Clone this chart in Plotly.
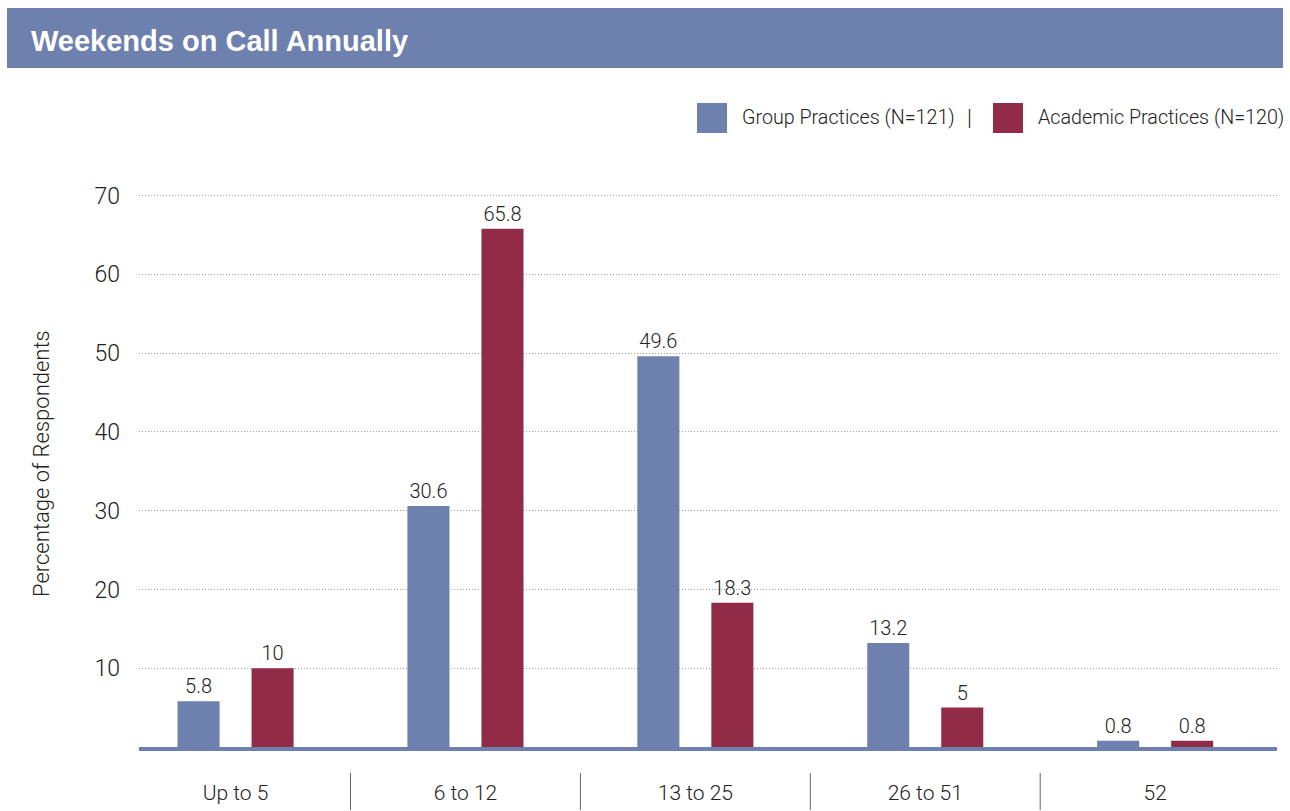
import plotly.graph_objects as go

# ---- data ----
categories = ["Up to 5", "6 to 12", "13 to 25", "26 to 51", "52"]
group_values = [5.8, 30.6, 49.6, 13.2, 0.8]
academic_values = [10, 65.8, 18.3, 5, 0.8]
series_names = ["Group Practices (N=121)", "Academic Practices (N=120)"]
y_ticks = [10, 20, 30, 40, 50, 60, 70]
chart_title = "Weekends on Call Annually"
y_title = "Percentage of Respondents"

# ---- style ----
BLUE = "#6e80ad"
RED = "#922b47"
FONT = "Roboto, Liberation Sans, Arial, sans-serif"
BOLD_FONT = "Liberation Sans, Arial, sans-serif"
TXT = "#222222"
LIGHT = 300

W, H = 1290, 811
ML, MR, MT, MB = 139, 13, 194, 64
PW = W - ML - MR
PH = H - MT - MB


def px_x(x):
    return (x - ML) / PW


def px_y(y):
    return (H - MB - y) / PH


fig = go.Figure()
for name, vals, col in zip(series_names, [group_values, academic_values], [BLUE, RED]):
    fig.add_trace(go.Bar(
        x=categories, y=vals, name=name,
        marker=dict(color=col, line=dict(width=0)),
        text=[f"{v:g}" for v in vals], textposition="outside",
        textfont=dict(size=20, color=TXT, family=FONT, weight=LIGHT),
        cliponaxis=False, showlegend=False,
    ))

shapes = []
annotations = []

# title bar
shapes.append(dict(type="rect", xref="paper", yref="paper",
                   x0=px_x(7), x1=px_x(1283), y0=px_y(68), y1=px_y(8),
                   fillcolor=BLUE, line=dict(width=0), layer="below"))
annotations.append(dict(text=chart_title, xref="paper", yref="paper",
                        x=px_x(29), y=px_y(41), xanchor="left", yanchor="middle",
                        showarrow=False,
                        font=dict(family=BOLD_FONT, size=29, color="white", weight="bold")))

# legend (manual, large squares)
legend_items = [(series_names[0], BLUE, 697, 740), (series_names[1], RED, 993, 1036)]
for name, col, sx, tx in legend_items:
    shapes.append(dict(type="rect", xref="paper", yref="paper",
                       x0=px_x(sx), x1=px_x(sx + 30), y0=px_y(133), y1=px_y(103),
                       fillcolor=col, line=dict(width=0)))
    annotations.append(dict(text=name, xref="paper", yref="paper",
                            x=px_x(tx), y=px_y(118), xanchor="left", yanchor="middle",
                            showarrow=False,
                            font=dict(family=FONT, size=19.7, color=TXT, weight=LIGHT)))
annotations.append(dict(text="|", xref="paper", yref="paper",
                        x=px_x(969), y=px_y(118), xanchor="center", yanchor="middle",
                        showarrow=False, font=dict(family=FONT, size=22, color=TXT, weight=LIGHT)))

# y-axis title
annotations.append(dict(text=y_title, xref="paper", yref="paper",
                        x=px_x(41), y=px_y(464), xanchor="center", yanchor="middle",
                        textangle=-90, showarrow=False,
                        font=dict(family=FONT, size=22, color=TXT, weight=LIGHT)))

# category separators
for i in range(len(categories) - 1):
    shapes.append(dict(type="line", xref="x", yref="paper",
                       x0=i + 0.5, x1=i + 0.5, y0=px_y(773), y1=px_y(810),
                       line=dict(color="#666666", width=1)))

fig.update_layout(
    width=W, height=H,
    margin=dict(l=ML, r=MR, t=MT, b=MB, pad=0, autoexpand=False),
    paper_bgcolor="white", plot_bgcolor="white",
    barmode="group", bargap=0.356, bargroupgap=0.432,
    shapes=shapes, annotations=annotations,
    xaxis=dict(type="category", range=[-0.42, 4.53], automargin=False,
               showline=True, linecolor=BLUE, linewidth=4,
               ticks="", showgrid=False, ticklabelstandoff=24,
               tickfont=dict(family=FONT, size=21, color=TXT, weight=LIGHT)),
    yaxis=dict(range=[0, 70.2], tickvals=y_ticks, automargin=False,
               showgrid=True, gridcolor="#a0a0a0", griddash="1px,2px", gridwidth=1,
               zeroline=False, showline=False, ticks="", ticklabelstandoff=18,
               tickfont=dict(family=FONT, size=23, color=TXT, weight=LIGHT)),
    font=dict(family=FONT),
)

fig.write_html("out.html")
